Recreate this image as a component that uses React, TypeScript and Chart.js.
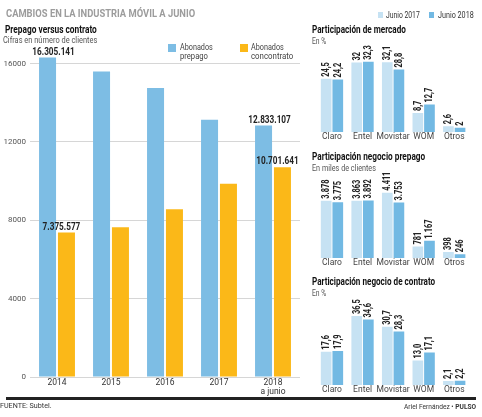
import React, { useEffect, useLayoutEffect, useRef, useState } from 'react';
import { Chart, registerables } from 'chart.js';

Chart.register(...registerables);
Chart.defaults.font.family = 'Roboto, sans-serif';

// ---------- DATA ----------
const years: string[][] = [['2014'], ['2015'], ['2016'], ['2017'], ['2018', 'a junio']];
const prepagoClients = [16305141, 15590000, 14760000, 13130000, 12833107];
const contratoClients = [7375577, 7645000, 8565000, 9860000, 10701641];
const labeledYears = [0, 4];
const leftTicks = [0, 4000, 8000, 12000, 16000];

const companies = ['Claro', 'Entel', 'Movistar', 'WOM', 'Otros'];
const mercado2017 = [24.5, 32, 32.1, 8.7, 2.6];
const mercado2018 = [24.2, 32.3, 28.8, 12.7, 2];
const prepago2017 = [3878, 3863, 4411, 781, 398];
const prepago2018 = [3775, 3892, 3753, 1167, 246];
const contrato2017 = [17.6, 36.5, 30.7, 13.0, 2.1];
const contrato2018 = [17.9, 34.6, 28.3, 17.1, 2.2];

// ---------- STYLE ----------
const BLUE = '#7dbde4';
const ORANGE = '#fbb818';
const LIGHT = '#c6e2f3';
const DARK = '#72b9e3';

const dots = (v: number) => String(Math.round(v)).replace(/\B(?=(\d{3})+(?!\d))/g, '.');
const fmtMercado = (v: number) => String(v).replace('.', ',');
const fmtPrepago = (v: number) => dots(v);
const fmtContrato = (v: number) => v.toFixed(1).replace('.', ',');

function makeRotatedLabels(fmt: (v: number) => string) {
  return {
    id: 'rotatedLabels',
    afterDatasetsDraw(chart: any) {
      const ctx = chart.ctx;
      ctx.save();
      ctx.font = 'bold 10px Roboto, sans-serif';
      ctx.fillStyle = '#222';
      ctx.textAlign = 'left';
      ctx.textBaseline = 'middle';
      chart.data.datasets.forEach((ds: any, di: number) => {
        chart.getDatasetMeta(di).data.forEach((bar: any, i: number) => {
          const text = fmt(ds.data[i]);
          const w = ctx.measureText(text).width;
          ctx.save();
          ctx.translate(bar.x, bar.y - 2);
          ctx.rotate(-Math.PI / 2);
          ctx.fillText(text, 0, 0.5, w * 0.74);
          ctx.restore();
        });
      });
      ctx.restore();
    },
  };
}

function makeLeftLabels() {
  const offsets = [6, -5];
  const raw = [prepagoClients, contratoClients];
  return {
    id: 'leftLabels',
    afterDatasetsDraw(chart: any) {
      const ctx = chart.ctx;
      ctx.save();
      ctx.font = 'bold 10px Roboto, sans-serif';
      ctx.fillStyle = '#222';
      ctx.textAlign = 'center';
      ctx.textBaseline = 'bottom';
      [0, 1].forEach((di) => {
        const meta = chart.getDatasetMeta(di);
        labeledYears.forEach((i) => {
          const bar = meta.data[i];
          const text = dots(raw[di][i]);
          const w = ctx.measureText(text).width;
          ctx.fillText(text, bar.x + offsets[di], bar.y - 0.5, w * 0.82);
        });
      });
      ctx.restore();
    },
  };
}

function FitText(props: {
  x: number; y: number; w: number; size: number; weight?: number | string; color?: string; children: any;
}) {
  const { x, y, w, size, weight = 400, color = '#333', children } = props;
  const ref = useRef<HTMLSpanElement>(null);
  const [k, setK] = useState(1);
  useLayoutEffect(() => {
    const measure = () => {
      if (ref.current) {
        const nw = ref.current.offsetWidth;
        if (nw > 0) setK(w / nw);
      }
    };
    measure();
    (document as any).fonts?.ready?.then(measure);
  }, [w]);
  return (
    <span
      ref={ref}
      style={{
        position: 'absolute',
        left: x,
        top: y - size * 0.6,
        fontSize: size,
        lineHeight: `${size * 1.2}px`,
        fontWeight: weight as any,
        color,
        whiteSpace: 'nowrap',
        fontFamily: 'Roboto, sans-serif',
        transform: `scaleX(${k})`,
        transformOrigin: 'left center',
      }}
    >
      {children}
    </span>
  );
}

function companyChart(
  canvas: HTMLCanvasElement,
  d17: number[],
  d18: number[],
  max: number,
  fmt: (v: number) => string,
  axisH: number
) {
  return new Chart(canvas, {
    type: 'bar',
    data: {
      labels: companies,
      datasets: [
        { label: 'Junio 2017', data: d17, backgroundColor: LIGHT, categoryPercentage: 0.76, barPercentage: 0.92 },
        { label: 'Junio 2018', data: d18, backgroundColor: DARK, categoryPercentage: 0.76, barPercentage: 0.92 },
      ],
    },
    options: {
      responsive: false,
      animation: false,
      layout: { padding: { left: 16.7, right: 12.5, top: 0, bottom: 0 } },
      plugins: { legend: { display: false }, tooltip: { enabled: false } },
      scales: {
        x: {
          grid: { display: false, drawTicks: false },
          border: { display: false },
          ticks: { autoSkip: false, maxRotation: 0, padding: 0, color: '#444', font: { size: 8.5, lineHeight: 1.2 } },
          afterFit: (s: any) => { s.height = axisH; },
        },
        y: { display: false, min: 0, max },
      },
    },
    plugins: [makeRotatedLabels(fmt)],
  } as any);
}

export default function App() {
  const leftRef = useRef<HTMLCanvasElement>(null);
  const mRef = useRef<HTMLCanvasElement>(null);
  const pRef = useRef<HTMLCanvasElement>(null);
  const cRef = useRef<HTMLCanvasElement>(null);

  useEffect(() => {
    document.body.style.margin = '0';
    const charts: Chart[] = [];
    charts.push(
      new Chart(leftRef.current!, {
        type: 'bar',
        data: {
          labels: years,
          datasets: [
            { label: 'Abonados prepago', data: prepagoClients.map((v) => v / 1000), backgroundColor: BLUE, categoryPercentage: 0.7, barPercentage: 0.9 },
            { label: 'Abonados con contrato', data: contratoClients.map((v) => v / 1000), backgroundColor: ORANGE, categoryPercentage: 0.7, barPercentage: 0.9 },
          ],
        },
        options: {
          responsive: false,
          animation: false,
          layout: { padding: { left: 0, right: 5, top: 44, bottom: 0 } },
          plugins: { legend: { display: false }, tooltip: { enabled: false } },
          scales: {
            x: {
              grid: { display: false, drawTicks: false },
              border: { display: false },
              ticks: { autoSkip: false, maxRotation: 0, padding: 2, color: '#333', font: { size: 8.5, lineHeight: 1 } },
              afterFit: (s: any) => { s.height = 23; },
            },
            y: {
              type: 'linear',
              min: 0,
              max: 17000,
              border: { display: false },
              grid: { color: '#d6d6d6', drawTicks: false },
              ticks: {
                autoSkip: false,
                padding: 4,
                color: '#555',
                font: { size: 8 },
                callback: (v: any) => String(v),
              },
              afterBuildTicks: (s: any) => {
                s.ticks = leftTicks.map((v) => ({ value: v }));
              },
              afterFit: (s: any) => { s.width = 30; },
            },
          },
        },
        plugins: [makeLeftLabels()],
      } as any)
    );
    charts.push(companyChart(mRef.current!, mercado2017, mercado2018, 40.5, fmtMercado, 14));
    charts.push(companyChart(pRef.current!, prepago2017, prepago2018, 5950, fmtPrepago, 12));
    charts.push(companyChart(cRef.current!, contrato2017, contrato2018, 47, fmtContrato, 12));
    return () => charts.forEach((c) => c.destroy());
  }, []);

  const cv = (left: number, top: number, w: number, h: number) =>
    ({ position: 'absolute', left, top, width: w, height: h } as React.CSSProperties);

  return (
    <div style={{ position: 'relative', width: 482, height: 417, background: '#fff', overflow: 'hidden' }}>
      <canvas ref={leftRef} width={305} height={400} style={cv(0, 0, 305, 400)} />
      <canvas ref={mRef} width={182} height={102} style={cv(300, 44, 182, 102)} />
      <canvas ref={pRef} width={182} height={100} style={cv(300, 170, 182, 100)} />
      <canvas ref={cRef} width={182} height={101} style={cv(300, 296, 182, 101)} />

      <FitText x={6} y={13.3} w={189} size={11} weight={700} color="#9c9c9c">CAMBIOS EN LA INDUSTRIA MÓVIL A JUNIO</FitText>
      <FitText x={5} y={30} w={92} size={10.5} weight={700} color="#111">Prepago versus contrato</FitText>
      <FitText x={3} y={40} w={94} size={9.5} color="#555">Cifras en número de clientes</FitText>

      <div style={{ position: 'absolute', left: 168, top: 44, width: 8, height: 8, background: BLUE }} />
      <FitText x={180} y={47} w={33} size={9} color="#444">Abonados</FitText>
      <FitText x={180} y={56} w={28} size={9} color="#444">prepago</FitText>
      <div style={{ position: 'absolute', left: 240, top: 44, width: 8, height: 8, background: ORANGE }} />
      <FitText x={251} y={47} w={33} size={9} color="#444">Abonados</FitText>
      <FitText x={250.5} y={56} w={42} size={9} color="#444">concontrato</FitText>

      <div style={{ position: 'absolute', left: 377.5, top: 11.5, width: 5, height: 6, background: LIGHT }} />
      <FitText x={386} y={15} w={34} size={9} color="#333">Junio 2017</FitText>
      <div style={{ position: 'absolute', left: 429, top: 11.5, width: 5, height: 6, background: DARK }} />
      <FitText x={437.7} y={15} w={36} size={9} color="#333">Junio 2018</FitText>

      <FitText x={312} y={30} w={94} size={10.5} weight={700} color="#111">Participación de mercado</FitText>
      <FitText x={312} y={40.7} w={14.3} size={9.5} color="#555">En %</FitText>
      <FitText x={312} y={157.7} w={113} size={10.5} weight={700} color="#111">Participación negocio prepago</FitText>
      <FitText x={312} y={167.3} w={64} size={9.5} color="#555">En miles de clientes</FitText>
      <FitText x={312} y={282.7} w={123} size={10.5} weight={700} color="#111">Participación negocio de contrato</FitText>
      <FitText x={312} y={292.3} w={14.3} size={9.5} color="#555">En %</FitText>

      <div style={{ position: 'absolute', left: 6, top: 397, width: 470, height: 2.5, background: '#222' }} />
      <FitText x={0} y={406} w={52} size={8} color="#333">FUENTE: Subtel.</FitText>
      <FitText x={403.5} y={406.7} w={72} size={8} color="#333">
        Ariel Fernández • <b>PULSO</b>
      </FitText>
    </div>
  );
}
